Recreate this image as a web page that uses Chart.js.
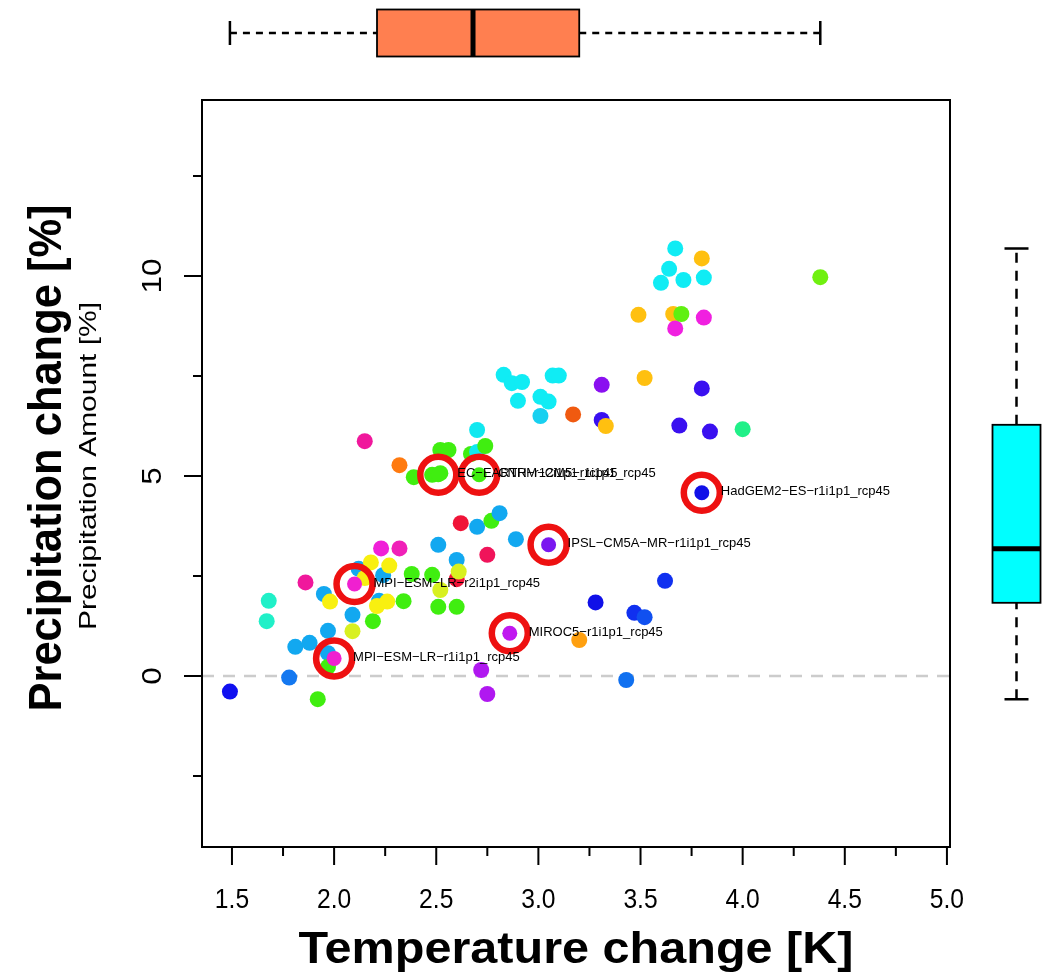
<!DOCTYPE html>
<html>
<head>
<meta charset="utf-8">
<title>Temperature vs precipitation change</title>
<script src="https://cdn.jsdelivr.net/npm/chart.js@4.4.0/dist/chart.umd.min.js"></script>
<style>
    html, body { margin: 0; padding: 0; background: #ffffff; }
    #wrap { width: 1045px; height: 975px; }
</style>
</head>
<body>
<div id="wrap"><canvas id="scatter" width="1045" height="975"></canvas></div>
<script>
// Scatter values (K, %)
const tempChange = [
    1.49, 1.67, 1.68, 1.78, 1.81, 1.88, 1.86, 1.92, 1.95, 1.97,
    1.98, 1.97, 1.97, 2.09, 2.09, 2.12, 2.15, 2.18, 2.19, 2.22,
    2.21, 2.23, 2.24, 2.26, 2.27, 2.32, 2.34, 2.38, 2.48, 2.51,
    2.51, 2.52, 2.60, 2.60, 2.60, 2.61, 2.62, 2.70, 2.77, 2.81,
    2.75, 2.89, 2.15, 2.32, 2.39, 2.48, 2.52, 2.52, 2.56, 2.67,
    2.70, 2.74, 2.70, 2.72, 2.75, 2.83, 2.87, 2.92, 2.90, 3.01,
    3.05, 3.07, 3.10, 3.01, 3.17, 3.20, 3.28, 3.31, 3.31, 3.33,
    3.43, 3.47, 3.52, 3.49, 3.52, 3.60, 3.62, 3.64, 3.66, 3.67,
    3.67, 3.69, 3.70, 3.71, 3.80, 3.80, 3.81, 3.81, 3.84, 4.00,
    4.38
];
const precipChange = [
    -0.39, 1.37, 1.88, -0.04, 0.73, 0.83, 2.34, -0.58, 2.05, 1.13,
    1.86, 0.57, 0.23, 1.53, 1.12, 2.68, 2.45, 2.84, 1.37, 1.88,
    1.75, 3.19, 2.52, 1.86, 2.76, 3.19, 1.87, 2.55, 2.53, 3.28,
    1.73, 2.15, 1.73, 2.90, 2.42, 2.61, 3.82, 3.73, 3.88, 4.07,
    3.03, 3.42, 5.87, 5.27, 4.97, 5.03, 5.07, 5.65, 5.65, 5.55,
    5.60, 5.75, 6.15, 0.15, -0.45, 7.53, 7.32, 7.35, 6.88, 6.98,
    6.86, 7.51, 7.51, 6.50, 6.54, 0.90, 1.84, 7.28, 6.40, 6.25,
    -0.10, 1.58, 1.47, 9.03, 7.45, 9.83, 2.38, 10.18, 9.05, 10.69,
    8.69, 6.26, 9.05, 9.90, 10.44, 7.19, 9.96, 8.96, 6.11, 6.17,
    9.97
];
const pointColors = [
    '#1010F0', '#20F0C8', '#20F0C8', '#1478F0', '#12A8F0', '#12A8F0', '#F0189C', '#40EE10', '#12A8F0', '#12A8F0',
    '#F8F010', '#12A8F0', '#40EE10', '#12A8F0', '#D8F020', '#12A8F0', '#F8F010', '#F8F010', '#40EE10', '#12A8F0',
    '#F8F010', '#F020D8', '#12A8F0', '#F8F010', '#F8F010', '#F020B8', '#40EE10', '#40EE10', '#40EE10', '#12A8F0',
    '#40EE10', '#D8F020', '#40EE10', '#12A8F0', '#F01438', '#D8F020', '#F01438', '#12A8F0', '#40EE10', '#12A8F0',
    '#F0145A', '#12A8F0', '#F0189C', '#FF7A10', '#40EE10', '#40EE10', '#40EE10', '#40EE10', '#40EE10', '#40EE10',
    '#10E8F0', '#40EE10', '#10E8F0', '#B018F0', '#B018F0', '#10ECF4', '#10ECF4', '#10ECF4', '#10ECF4', '#10ECF4',
    '#10ECF4', '#10ECF4', '#10ECF4', '#18D0F0', '#F05A10', '#FFA010', '#1010E8', '#8A10F0', '#3A10F0', '#FFC010',
    '#1070F0', '#1030F0', '#1050F0', '#FFC010', '#FFC010', '#10ECF4', '#1030F0', '#10ECF4', '#FFC010', '#10ECF4',
    '#F020E0', '#3A10F0', '#60F010', '#10ECF4', '#FFC010', '#3A10F0', '#10ECF4', '#F020E0', '#3A10F0', '#20F088',
    '#70F010'
];

// Highlighted models
const modelNames = [
    'EC−EARTH−r12i1p1_rcp45',
    'CNRM−CM5−r1i1p1_rcp45',
    'HadGEM2−ES−r1i1p1_rcp45',
    'IPSL−CM5A−MR−r1i1p1_rcp45',
    'MPI−ESM−LR−r2i1p1_rcp45',
    'MIROC5−r1i1p1_rcp45',
    'MPI−ESM−LR−r1i1p1_rcp45'
];
const modelTemp = [2.51, 2.71, 3.80, 3.05, 2.10, 2.86, 2.00];
const modelPrecip = [5.03, 5.03, 4.58, 3.28, 2.30, 1.07, 0.44];
const modelColors = ['#40EE10', '#40EE10', '#1010E8', '#7A18F0', '#F020D0', '#C018F0', '#F020D0'];

// Marginal boxplots: min, lower hinge, median, upper hinge, max
const tempBox = [1.49, 2.21, 2.68, 3.20, 4.38];
const precipBox = [-0.58, 1.83, 3.18, 6.28, 10.69];

// Axis ticks
const xMajorTicks = [1.5, 2.0, 2.5, 3.0, 3.5, 4.0, 4.5, 5.0];
const xTickLabels = ['1.5', '2.0', '2.5', '3.0', '3.5', '4.0', '4.5', '5.0'];
const xMinorTicks = [1.75, 2.25, 2.75, 3.25, 3.75, 4.25, 4.75];
const yMajorTicks = [0, 5, 10];
const yTickLabels = ['0', '5', '10'];
const yMinorTicks = [-2.5, 2.5, 7.5, 12.5];

const FONT = '"Liberation Sans", Arial, Helvetica, sans-serif';

// Draw text centred on (x, y), optionally rotated and stretched along the baseline
function drawText(ctx, text, x, y, font, angle, stretch) {
    ctx.save();
    ctx.translate(x, y);
    if (angle) ctx.rotate(angle);
    ctx.font = font;
    if (stretch) ctx.scale(stretch, 1);
    ctx.fillStyle = '#000000';
    ctx.textAlign = 'center';
    ctx.textBaseline = 'middle';
    ctx.fillText(text, 0, 0);
    ctx.restore();
}

// Same, but squeezed/stretched so that the text spans a given length
function drawTextFit(ctx, text, x, y, font, angle, length) {
    ctx.save();
    ctx.font = font;
    const w = ctx.measureText(text).width;
    ctx.restore();
    drawText(ctx, text, x, y, font, angle, length / w);
}

// Dashed zero line under the points
const zeroLinePlugin = {
    id: 'zeroLine',
    beforeDatasetsDraw(chart) {
        const { ctx, chartArea, scales } = chart;
        const y = scales.y.getPixelForValue(0);
        ctx.save();
        ctx.strokeStyle = '#CCCCCC';
        ctx.lineWidth = 2.5;
        ctx.setLineDash([12, 9]);
        ctx.beginPath();
        ctx.moveTo(chartArea.left, y);
        ctx.lineTo(chartArea.right, y);
        ctx.stroke();
        ctx.restore();
    }
};

// Frame, ticks, tick labels, titles and model labels
const framePlugin = {
    id: 'frame',
    afterDatasetsDraw(chart) {
        const { ctx, chartArea, scales } = chart;
        const { left, right, top, bottom } = chartArea;

        ctx.save();
        ctx.strokeStyle = '#000000';
        ctx.lineWidth = 2;
        ctx.strokeRect(left, top, right - left, bottom - top);

        // x ticks
        ctx.beginPath();
        xMajorTicks.forEach(v => {
            const x = scales.x.getPixelForValue(v);
            ctx.moveTo(x, bottom);
            ctx.lineTo(x, bottom + 18);
        });
        xMinorTicks.forEach(v => {
            const x = scales.x.getPixelForValue(v);
            ctx.moveTo(x, bottom);
            ctx.lineTo(x, bottom + 9);
        });
        // y ticks
        yMajorTicks.forEach(v => {
            const y = scales.y.getPixelForValue(v);
            ctx.moveTo(left, y);
            ctx.lineTo(left - 18, y);
        });
        yMinorTicks.forEach(v => {
            const y = scales.y.getPixelForValue(v);
            ctx.moveTo(left, y);
            ctx.lineTo(left - 9, y);
        });
        ctx.stroke();
        ctx.restore();

        xMajorTicks.forEach((v, i) => {
            drawText(ctx, xTickLabels[i], scales.x.getPixelForValue(v), 900, '28px ' + FONT, 0, 0.88);
        });
        yMajorTicks.forEach((v, i) => {
            drawText(ctx, yTickLabels[i], 153, scales.y.getPixelForValue(v), '28px ' + FONT, -Math.PI / 2, 1.12);
        });

        // axis titles
        const midX = (left + right) / 2;
        drawTextFit(ctx, 'Temperature change [K]', midX, 951, 'bold 44px ' + FONT, 0, 555);
        drawTextFit(ctx, 'Precipitation change [%]', 48, 458, 'bold 46px ' + FONT, -Math.PI / 2, 507);
        drawTextFit(ctx, 'Precipitation Amount [%]', 89, 466, '24px ' + FONT, -Math.PI / 2, 328);

        // model labels to the right of the circles
        modelNames.forEach((name, i) => {
            const x = scales.x.getPixelForValue(modelTemp[i]) + 19;
            const y = scales.y.getPixelForValue(modelPrecip[i]) - 1;
            ctx.save();
            ctx.font = '13px ' + FONT;
            ctx.fillStyle = '#000000';
            ctx.textAlign = 'left';
            ctx.textBaseline = 'middle';
            ctx.fillText(name, x, y);
            ctx.restore();
        });
    }
};

// Marginal boxplots (top: temperature, right: precipitation)
const boxPlugin = {
    id: 'marginBoxes',
    afterDraw(chart) {
        const { ctx, scales } = chart;

        // top, horizontal
        const px = tempBox.map(v => scales.x.getPixelForValue(v));
        const cy = 33, hb = 23.5, hc = 12;
        ctx.save();
        ctx.strokeStyle = '#000000';
        ctx.lineWidth = 2.5;
        ctx.setLineDash([7, 6]);
        ctx.beginPath();
        ctx.moveTo(px[0], cy); ctx.lineTo(px[1], cy);
        ctx.moveTo(px[3], cy); ctx.lineTo(px[4], cy);
        ctx.stroke();
        ctx.setLineDash([]);
        ctx.beginPath();
        ctx.moveTo(px[0], cy - hc); ctx.lineTo(px[0], cy + hc);
        ctx.moveTo(px[4], cy - hc); ctx.lineTo(px[4], cy + hc);
        ctx.stroke();
        ctx.fillStyle = '#FF7F50';
        ctx.fillRect(px[1], cy - hb, px[3] - px[1], 2 * hb);
        ctx.lineWidth = 1.8;
        ctx.strokeRect(px[1], cy - hb, px[3] - px[1], 2 * hb);
        ctx.lineWidth = 5;
        ctx.beginPath();
        ctx.moveTo(px[2], cy - hb); ctx.lineTo(px[2], cy + hb);
        ctx.stroke();

        // right, vertical
        const py = precipBox.map(v => scales.y.getPixelForValue(v));
        const cx = 1016.5, wb = 24, wc = 12;
        ctx.lineWidth = 2.5;
        ctx.setLineDash([10, 8]);
        ctx.beginPath();
        ctx.moveTo(cx, py[0]); ctx.lineTo(cx, py[1]);
        ctx.moveTo(cx, py[3]); ctx.lineTo(cx, py[4]);
        ctx.stroke();
        ctx.setLineDash([]);
        ctx.beginPath();
        ctx.moveTo(cx - wc, py[0]); ctx.lineTo(cx + wc, py[0]);
        ctx.moveTo(cx - wc, py[4]); ctx.lineTo(cx + wc, py[4]);
        ctx.stroke();
        ctx.fillStyle = '#00FFFF';
        ctx.fillRect(cx - wb, py[3], 2 * wb, py[1] - py[3]);
        ctx.lineWidth = 1.8;
        ctx.strokeRect(cx - wb, py[3], 2 * wb, py[1] - py[3]);
        ctx.lineWidth = 5;
        ctx.beginPath();
        ctx.moveTo(cx - wb, py[2]); ctx.lineTo(cx + wb, py[2]);
        ctx.stroke();
        ctx.restore();
    }
};

const allPoints = tempChange.map((t, i) => ({ x: t, y: precipChange[i] }));
const modelPoints = modelTemp.map((t, i) => ({ x: t, y: modelPrecip[i] }));

const ctx = document.getElementById('scatter').getContext('2d');
new Chart(ctx, {
    type: 'scatter',
    data: {
        datasets: [
            {
                label: 'Models',
                data: allPoints,
                pointBackgroundColor: pointColors,
                pointBorderWidth: 0,
                pointRadius: 8,
                order: 3
            },
            {
                label: 'Selected rings',
                data: modelPoints,
                pointBackgroundColor: 'rgba(0,0,0,0)',
                pointBorderColor: '#EE1111',
                pointBorderWidth: 6.5,
                pointRadius: 18,
                order: 2
            },
            {
                label: 'Selected',
                data: modelPoints,
                pointBackgroundColor: modelColors,
                pointBorderWidth: 0,
                pointRadius: 7.5,
                order: 1
            }
        ]
    },
    options: {
        responsive: false,
        animation: false,
        devicePixelRatio: 1,
        layout: { padding: { left: 202, top: 100, right: 95, bottom: 128 } },
        plugins: {
            legend: { display: false },
            tooltip: { enabled: false }
        },
        scales: {
            x: { type: 'linear', min: 1.3533, max: 5.015, display: false },
            y: { type: 'linear', min: -4.275, max: 14.4, display: false }
        }
    },
    plugins: [zeroLinePlugin, framePlugin, boxPlugin]
});
</script>
</body>
</html>
